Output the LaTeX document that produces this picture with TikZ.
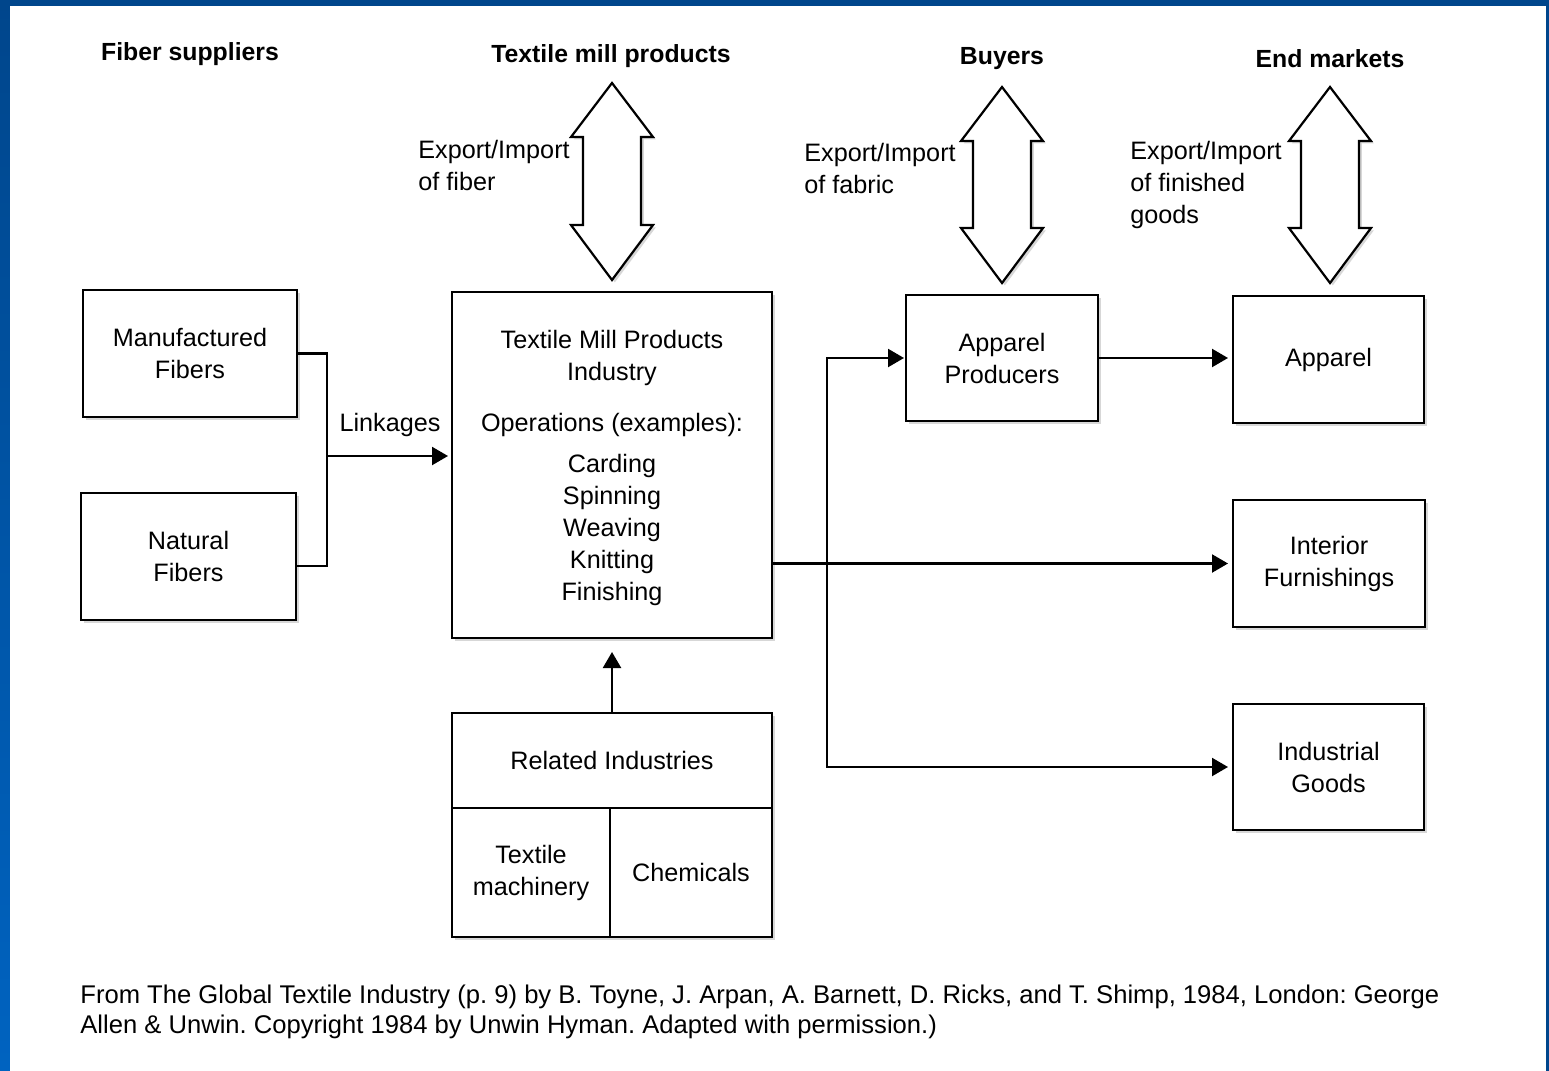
\documentclass[tikz,border=0pt]{standalone}
\usepackage{fontspec}
\setmainfont{Liberation Sans}
\usetikzlibrary{arrows.meta,shadows,calc}

\definecolor{frameblue}{HTML}{00468C}
\definecolor{frameblueL}{HTML}{0063C0}

\tikzset{
  box/.style={draw, line width=1.1pt, fill=white, align=center,
    font=\fontsize{12.6}{16}\selectfont, inner sep=0pt, outer sep=0pt,
    drop shadow={shadow xshift=1.6pt, shadow yshift=-1.6pt, fill=black!22, opacity=0.7}},
  heading/.style={font=\fontsize{12.4}{15}\bfseries\selectfont, inner sep=0pt},
  lbl/.style={font=\fontsize{12.6}{16}\selectfont, align=left, inner sep=0pt},
  wire/.style={line width=1.1pt},
  arr/.style={wire, -{Triangle[length=8pt,width=9pt]}},
  bigarrow/.style={draw, line width=1.1pt, fill=white, line join=miter,
    drop shadow={shadow xshift=1.4pt, shadow yshift=-1.2pt, fill=black!22, opacity=0.7}},
}

% hollow two-headed trade arrow: centre x, top tip y, bottom tip y
\newcommand\dblarrow[3]{%
  \draw[bigarrow] (#1,#2) -- (#1+41,#2+54) -- (#1+29,#2+54) -- (#1+29,#3-55)
    -- (#1+41,#3-55) -- (#1,#3) -- (#1-41,#3-55) -- (#1-29,#3-55)
    -- (#1-29,#2+54) -- (#1-41,#2+54) -- cycle;}

\begin{document}
\begin{tikzpicture}[x=0.5pt,y=-0.5pt]
\useasboundingbox (0,0) rectangle (1549,1071);

% slide frame
\fill[frameblue] (0,0) rectangle (1549,1071);
\shade[top color=frameblue, bottom color=frameblueL] (0,0) rectangle (10,1071);
\fill[white] (10,6) rectangle (1546,1071);

% column headings
\node[heading] (hfib) at (190,54) {Fiber suppliers};
\node[heading] (htex) at (611,56) {Textile mill products};
\node[heading] (hbuy) at (1002,59) {Buyers};
\node[heading] (hend) at (1330,59) {End markets};

% trade arrows
\dblarrow{612}{83}{280}
\dblarrow{1002}{87}{283}
\dblarrow{1330}{87}{283}

\node[lbl, anchor=west] (xfib) at (418,165.5) {Export/Import\\of fiber};
\node[lbl, anchor=west] (xfab) at (804,168.5) {Export/Import\\of fabric};
\node[lbl, anchor=west] (xfin) at (1130,185) {Export/Import\\of finished\\goods};

% boxes
\node[box, minimum width=107pt, minimum height=63.5pt] (mf) at (190,353.5) {Manufactured\\Fibers};
\node[box, minimum width=107.5pt, minimum height=63.5pt] (nf) at (188.5,556.5) {Natural\\Fibers};
\node[box, minimum width=160pt, minimum height=173pt] (tmp) at (612,465) {};
\node[align=center, font=\fontsize{12.6}{16}\selectfont, inner sep=0pt, anchor=north] (tmptxt) at (612,330)
  {Textile Mill Products\\Industry\\[9.5pt]Operations (examples):\\[4.5pt]Carding\\Spinning\\Weaving\\Knitting\\Finishing};
\node[box, minimum width=160pt, minimum height=47.5pt] (ri) at (612,760.5) {Related Industries};
\node[box, minimum width=79pt, minimum height=64.5pt] (tm) at (531,872.5) {Textile\\machinery};
\node[box, minimum width=81pt, minimum height=64.5pt] (chem) at (691,872.5) {Chemicals};
\node[box, minimum width=96pt, minimum height=63pt] (ap) at (1002,358) {Apparel\\Producers};
\node[box, minimum width=95.5pt, minimum height=63.5pt] (apl) at (1328.5,359.5) {Apparel};
\node[box, minimum width=96pt, minimum height=63.5pt] (if) at (1329,563.5) {Interior\\Furnishings};
\node[box, minimum width=95.5pt, minimum height=63pt] (ig) at (1328.5,767) {Industrial\\Goods};

% fiber linkages
\coordinate (jn) at (327,456);
\draw[wire] (mf.east) -| (jn);
\draw[wire] (nf.east |- 0,566) -| (jn);
\draw[arr, shorten >=2pt] (jn) -- (tmp.west |- jn);
\node[lbl] (link) at (390,425) {Linkages};

% related industries feed the mill
\draw[arr, shorten >=7pt] (ri.north) -- (tmp.south);

% mill output to buyers and end markets
\coordinate (br) at (827,563.5);
\draw[arr, shorten >=2.5pt] (tmp.east |- if.west) -- (if.west);
\draw[arr, shorten >=1pt] (br) |- (ap.west);
\draw[arr, shorten >=2.5pt] (br) |- (ig.west);
\draw[arr, shorten >=2.5pt] (ap.east) -- (ap.east -| apl.west);

% source note
\node[lbl, anchor=west, font=\fontsize{12.8}{15}\selectfont\frenchspacing] (src) at (80,1012)
  {From The Global Textile Industry (p. 9) by B. Toyne, J. Arpan, A. Barnett, D. Ricks, and T. Shimp, 1984, London: George\\
   Allen \& Unwin. Copyright 1984 by Unwin Hyman. Adapted with permission.)};
\end{tikzpicture}
\end{document}
